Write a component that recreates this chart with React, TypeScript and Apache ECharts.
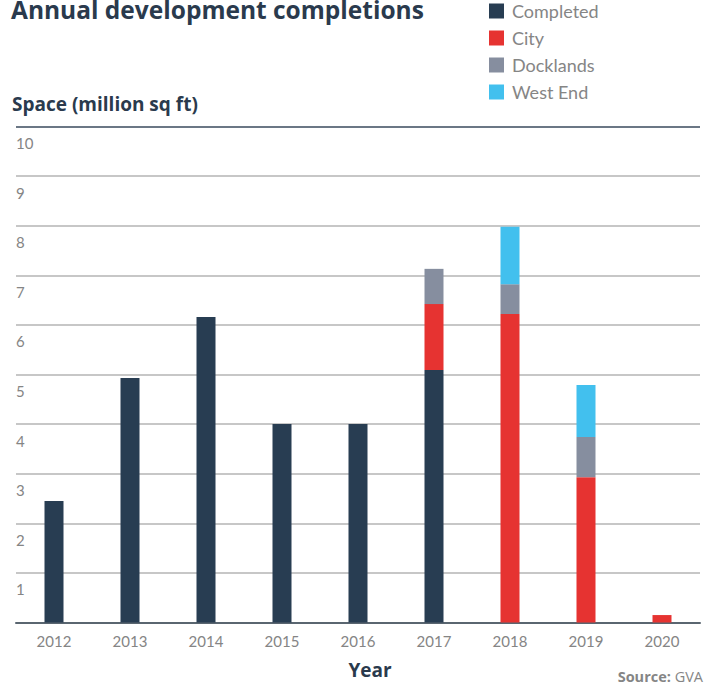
import React, { useEffect, useRef } from "react";
import * as echarts from "echarts";

const years = ["2012", "2013", "2014", "2015", "2016", "2017", "2018", "2019", "2020"];
const completed = [2.45, 4.93, 6.16, 4.0, 4.0, 5.09, null, null, null];
const city = [null, null, null, null, null, 1.33, 6.22, 2.93, 0.15];
const docklands = [null, null, null, null, null, 0.71, 0.6, 0.81, null];
const westEnd = [null, null, null, null, null, null, 1.16, 1.05, null];

const FONT = "Lato";
const BOLD_FONT = "Open Sans";
const NAVY = "#2a3a4d";
const GREY_TEXT = "#858585";

export default function App() {
  const ref = useRef<HTMLDivElement>(null);
  useEffect(() => {
    if (!ref.current) return;
    const chart = echarts.init(ref.current, undefined, { renderer: "svg" });
    const splitColors = ["#b4b4b4", "#b4b4b4", "#b4b4b4", "#b4b4b4", "#b4b4b4", "#b4b4b4", "#b4b4b4", "#b4b4b4", "#b4b4b4", "#b4b4b4", "#3a4a5c"];
    const mk = (name: string, data: (number | null)[], color: string) => ({
      name,
      type: "bar",
      stack: "total",
      barWidth: 19,
      data,
      itemStyle: { color },
    });
    chart.setOption({
      animation: false,
      textStyle: { fontFamily: FONT },
      grid: { left: 16, right: 7, top: 126.5, bottom: 61.5, containLabel: false },
      legend: {
        orient: "vertical",
        left: 489,
        top: 2,
        padding: 0,
        itemWidth: 15,
        itemHeight: 15,
        itemGap: 9,
        icon: "rect",
        textStyle: { fontFamily: FONT, fontSize: 18, color: GREY_TEXT, lineHeight: 17, padding: [0, 0, 0, 3] },
        data: ["Completed", "City", "Docklands", "West End"],
      },
      xAxis: {
        type: "category",
        data: years,
        axisLine: { lineStyle: { color: "#5a6670", width: 2 } },
        axisTick: { show: false },
        axisLabel: { color: GREY_TEXT, fontSize: 15, margin: 11, fontFamily: FONT },
      },
      yAxis: {
        type: "value",
        min: 0,
        max: 10,
        interval: 1,
        axisLine: { show: false },
        axisTick: { show: false },
        splitLine: { show: true, lineStyle: { color: splitColors, width: 1.5 } },
        axisLabel: {
          inside: true,
          showMinLabel: false,
          margin: 0,
          align: "left",
          verticalAlign: "top",
          padding: [9, 0, 0, 0],
          color: GREY_TEXT,
          fontSize: 15,
          fontFamily: FONT,
        },
      },
      graphic: [
        {
          type: "text",
          left: 11,
          top: -3,
          style: { text: "Annual development completions", fontFamily: BOLD_FONT, fontSize: 24.5, fontWeight: "bold", fill: NAVY },
        },
        {
          type: "text",
          left: 12,
          top: 94,
          style: { text: "Space (million sq ft)", fontFamily: BOLD_FONT, fontSize: 19, fontWeight: "bold", fill: NAVY },
        },
        {
          type: "text",
          x: 370,
          y: 670,
          style: { text: "Year", fontFamily: BOLD_FONT, fontSize: 19, fontWeight: "bold", fill: NAVY, align: "center", verticalAlign: "middle" },
        },
        {
          type: "text",
          x: 703,
          y: 676,
          style: {
            text: "{b|Source:} GVA",
            fontFamily: BOLD_FONT,
            fontSize: 14.5,
            fill: GREY_TEXT,
            align: "right",
            verticalAlign: "middle",
            rich: { b: { fontWeight: "bold", fontFamily: BOLD_FONT, fontSize: 14.5, fill: GREY_TEXT } },
          },
        },
      ],
      series: [
        mk("Completed", completed, "#283d52"),
        mk("City", city, "#e63331"),
        mk("Docklands", docklands, "#868e9f"),
        mk("West End", westEnd, "#42c0ee"),
      ],
    });
    return () => chart.dispose();
  }, []);
  return <div ref={ref} style={{ width: 707, height: 684, position: "absolute", left: 0, top: 0 }} />;
}
